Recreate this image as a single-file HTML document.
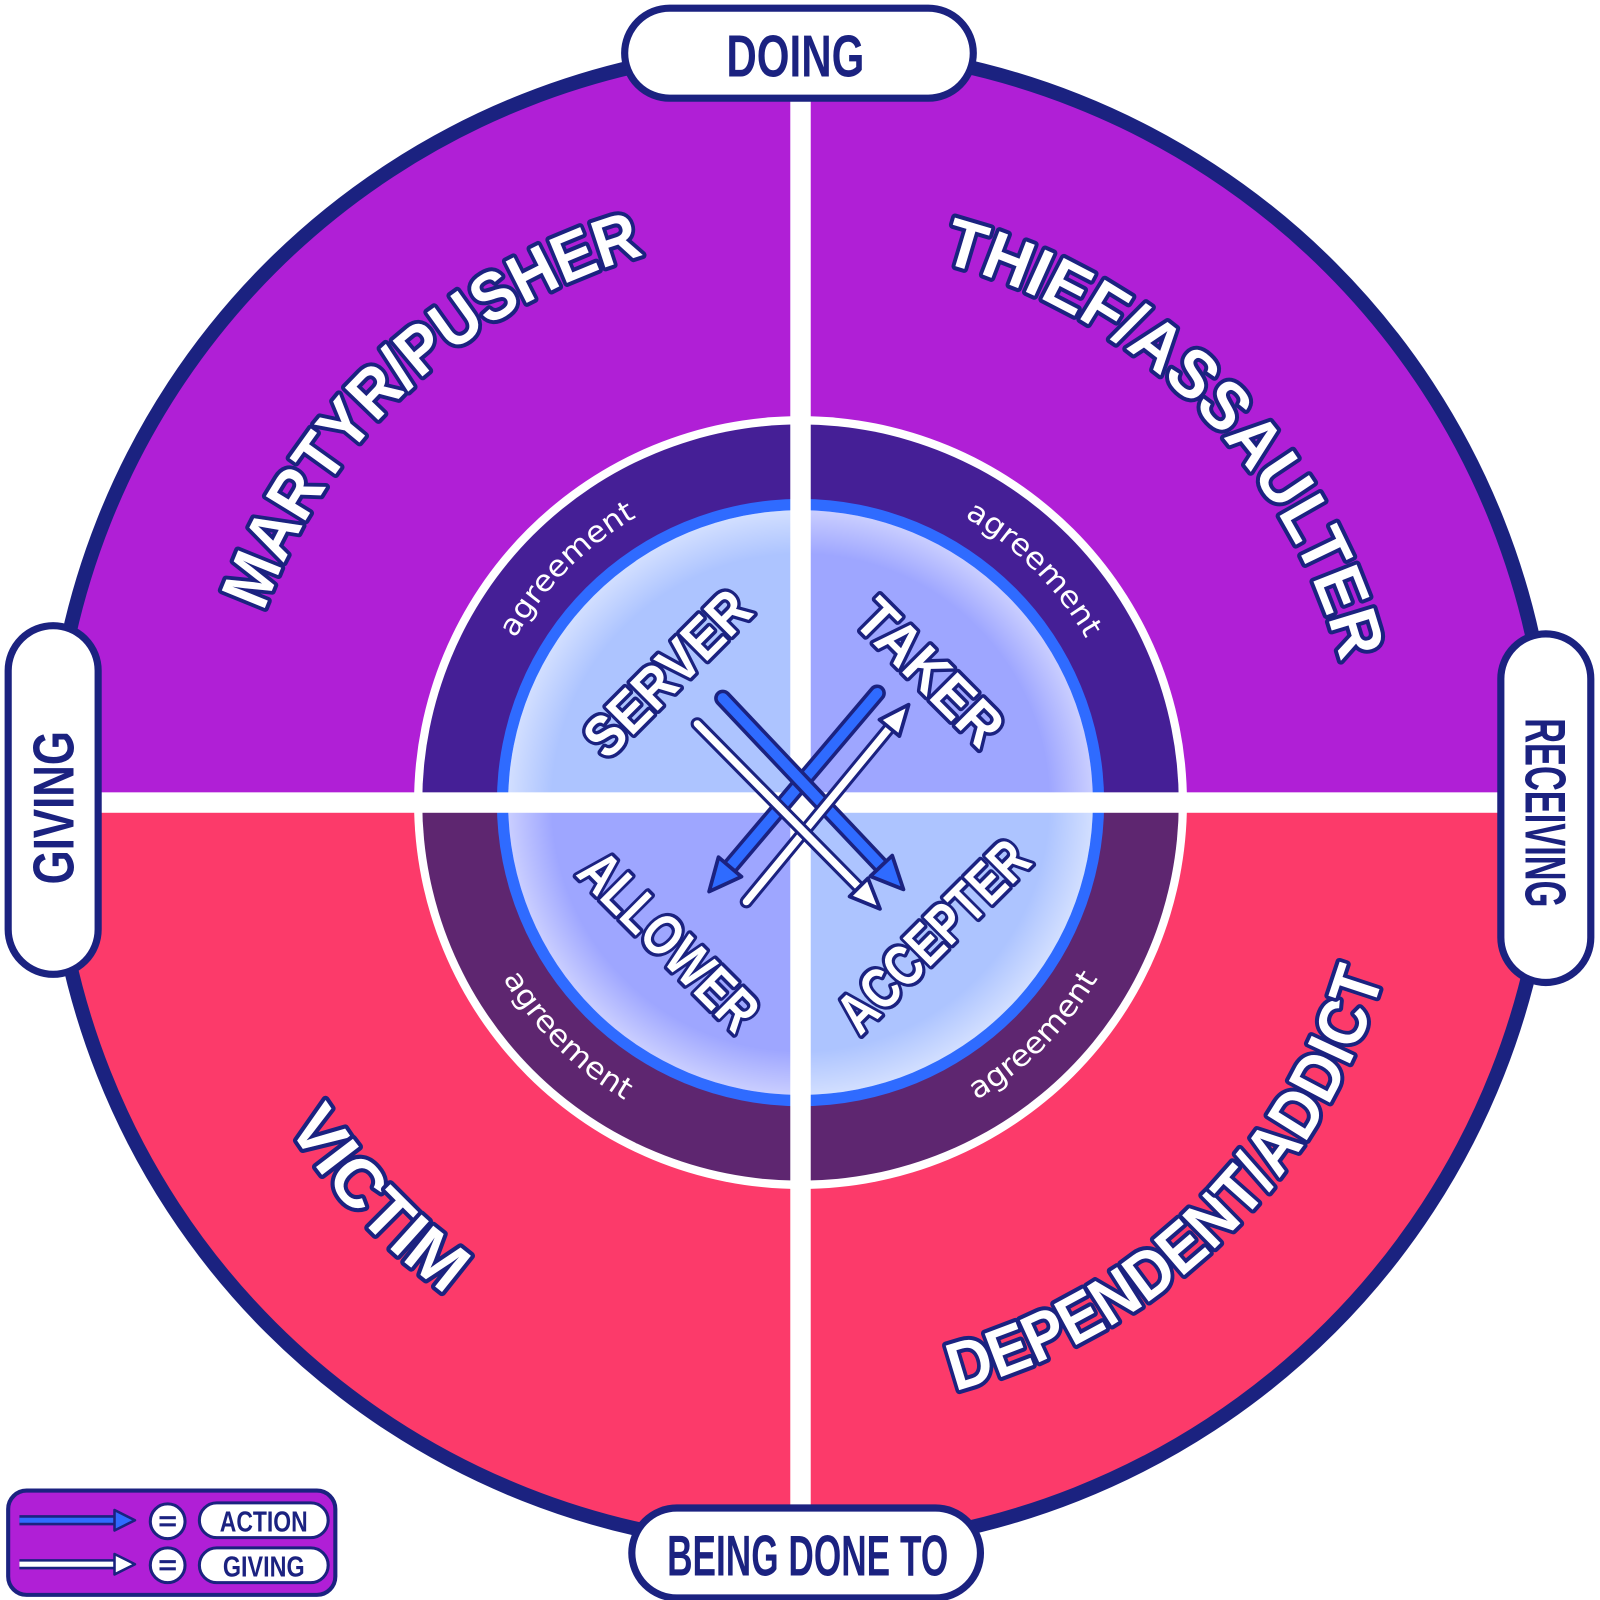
<!DOCTYPE html>
<html><head><meta charset="utf-8"><style>
html,body{margin:0;padding:0;background:#fff;width:1600px;height:1600px;overflow:hidden}
svg{display:block}
.big{font-family:"Liberation Sans",sans-serif;font-weight:bold;font-size:66px;fill:#fff;stroke:#1b2280;stroke-width:8;paint-order:stroke;stroke-linejoin:round}
.role{font-family:"Liberation Sans Narrow","Liberation Sans",sans-serif;font-weight:bold;font-size:56px;fill:#fff;stroke:#1b2280;stroke-width:7;paint-order:stroke;stroke-linejoin:round}
.agr{font-family:"DejaVu Sans","Liberation Sans",sans-serif;font-weight:normal;font-size:29px;fill:#fff}
.pill{font-family:"Liberation Sans Narrow","Liberation Sans",sans-serif;font-weight:bold;fill:#1b2280}
</style></head><body>
<svg width="1600" height="1600" viewBox="0 0 1565 1565" xmlns="http://www.w3.org/2000/svg">
<defs>
<clipPath id="outer"><circle cx="783" cy="780" r="733"/></clipPath>
<path id="topBig" d="M226,785 A557,557 0 0 1 1340,785"/>
<path id="topBig2" d="M237,785 A546,546 0 0 1 1329,785"/>
<path id="botVic" d="M190,785 A593,593 0 0 0 1376,785"/>
<path id="botDep" d="M188,785 A595,595 0 0 0 1378,785"/>
<path id="topAgr" d="M461,785 A322,322 0 0 1 1105,785"/>
<path id="botAgr" d="M445,785 A338,338 0 0 0 1121,785"/>
<marker id="hb" markerUnits="userSpaceOnUse" markerWidth="40" markerHeight="40" viewBox="-4 -18 38 36" refX="0" refY="0" orient="auto"><path d="M0,-14 L30,0 L0,14 Z" fill="#2f6bff" stroke="#1b2280" stroke-width="3.5" stroke-linejoin="round"/></marker>
<marker id="hw" markerUnits="userSpaceOnUse" markerWidth="40" markerHeight="40" viewBox="-4 -18 38 36" refX="0" refY="0" orient="auto"><path d="M0,-12 L28,0 L0,12 Z" fill="#fff" stroke="#1b2280" stroke-width="3.5" stroke-linejoin="round"/></marker>
<radialGradient id="glow" cx="50%" cy="50%" r="50%"><stop offset="85%" stop-color="#fff" stop-opacity="0"/><stop offset="100%" stop-color="#fff" stop-opacity="0.45"/></radialGradient>
</defs>

<circle cx="783" cy="780" r="733" fill="#fc3a6a"/>
<g clip-path="url(#outer)">
<rect x="0" y="0" width="1565" height="785" fill="#b01fd6"/>
</g>
<circle cx="783" cy="780" r="733" fill="none" stroke="#1b2280" stroke-width="14"/>

<circle cx="783" cy="785" r="378" fill="#fff"/>
<path d="M413,785 A370,370 0 0 1 1153,785 Z" fill="#451f96"/>
<path d="M413,785 A370,370 0 0 0 1153,785 Z" fill="#5e2670"/>
<circle cx="783" cy="785" r="297" fill="#2f6bff"/>
<path d="M783,785 L497,785 A286,286 0 0 1 783,499 Z" fill="#adc4ff"/>
<path d="M783,785 L783,499 A286,286 0 0 1 1069,785 Z" fill="#9ea6ff"/>
<path d="M783,785 L1069,785 A286,286 0 0 1 783,1071 Z" fill="#adc4ff"/>
<path d="M783,785 L783,1071 A286,286 0 0 1 497,785 Z" fill="#9ea6ff"/>
<circle cx="783" cy="785" r="286" fill="url(#glow)"/>

<rect x="773" y="80" width="20" height="1410" fill="#fff"/>
<rect x="80" y="775" width="1405" height="20" fill="#fff"/>

<text class="big"><textPath href="#topBig" startOffset="26%" text-anchor="middle" textLength="530" lengthAdjust="spacingAndGlyphs">MARTYR/PUSHER</textPath></text>
<text class="big"><textPath href="#topBig2" startOffset="75%" text-anchor="middle" textLength="580" lengthAdjust="spacingAndGlyphs">THIEF/ASSAULTER</textPath></text>
<text class="big"><textPath href="#botVic" startOffset="24%" text-anchor="middle" textLength="228" lengthAdjust="spacingAndGlyphs">VICTIM</textPath></text>
<text class="big"><textPath href="#botDep" startOffset="74.5%" text-anchor="middle" textLength="610" lengthAdjust="spacingAndGlyphs">DEPENDENT/ADDICT</textPath></text>

<text class="agr"><textPath href="#topAgr" startOffset="25%" text-anchor="middle" textLength="170" lengthAdjust="spacingAndGlyphs">agreement</textPath></text>
<text class="agr"><textPath href="#topAgr" startOffset="75%" text-anchor="middle" textLength="170" lengthAdjust="spacingAndGlyphs">agreement</textPath></text>
<text class="agr"><textPath href="#botAgr" startOffset="25%" text-anchor="middle" textLength="170" lengthAdjust="spacingAndGlyphs">agreement</textPath></text>
<text class="agr"><textPath href="#botAgr" startOffset="75%" text-anchor="middle" textLength="170" lengthAdjust="spacingAndGlyphs">agreement</textPath></text>

<text class="role" transform="translate(652,658) rotate(-45)" text-anchor="middle" y="20" textLength="205" lengthAdjust="spacingAndGlyphs">SERVER</text>
<text class="role" transform="translate(910,657) rotate(45)" text-anchor="middle" y="20" textLength="178" lengthAdjust="spacingAndGlyphs">TAKER</text>
<text class="role" transform="translate(655,920) rotate(45)" text-anchor="middle" y="20" textLength="222" lengthAdjust="spacingAndGlyphs">ALLOWER</text>
<text class="role" transform="translate(912,915) rotate(-45)" text-anchor="middle" y="20" textLength="240" lengthAdjust="spacingAndGlyphs">ACCEPTER</text>

<g stroke-linecap="round">
<line x1="858" y1="678" x2="714" y2="848" stroke="#1b2280" stroke-width="17"/>
<line x1="858" y1="678" x2="714" y2="848" stroke="#2f6bff" stroke-width="10" marker-end="url(#hb)"/>
<line x1="707" y1="683" x2="862" y2="847" stroke="#1b2280" stroke-width="17"/>
<line x1="707" y1="683" x2="862" y2="847" stroke="#2f6bff" stroke-width="10" marker-end="url(#hb)"/>
<line x1="730" y1="882" x2="870" y2="712" stroke="#1b2280" stroke-width="13"/>
<line x1="730" y1="882" x2="870" y2="712" stroke="#fff" stroke-width="7" marker-end="url(#hw)"/>
<line x1="682" y1="708" x2="840" y2="868" stroke="#1b2280" stroke-width="13"/>
<line x1="682" y1="708" x2="840" y2="868" stroke="#fff" stroke-width="7" marker-end="url(#hw)"/>
</g>

<rect x="611" y="8" width="341" height="88" rx="44" fill="#fff" stroke="#1b2280" stroke-width="7"/>
<text class="pill" x="778" y="75" font-size="58" text-anchor="middle" textLength="135" lengthAdjust="spacingAndGlyphs">DOING</text>
<rect x="618" y="1475" width="341" height="88" rx="44" fill="#fff" stroke="#1b2280" stroke-width="7"/>
<text class="pill" x="790" y="1541" font-size="56" text-anchor="middle" textLength="275" lengthAdjust="spacingAndGlyphs">BEING DONE TO</text>
<rect x="8" y="612" width="88" height="341" rx="44" fill="#fff" stroke="#1b2280" stroke-width="7"/>
<text class="pill" transform="translate(52,790) rotate(-90)" y="20" font-size="56" text-anchor="middle" textLength="150" lengthAdjust="spacingAndGlyphs">GIVING</text>
<rect x="1468" y="620" width="88" height="341" rx="44" fill="#fff" stroke="#1b2280" stroke-width="7"/>
<text class="pill" transform="translate(1512,795) rotate(90)" y="20" font-size="56" text-anchor="middle" textLength="185" lengthAdjust="spacingAndGlyphs">RECEIVING</text>

<rect x="8" y="1458" width="320" height="102" rx="18" fill="#b01fd6" stroke="#1b2280" stroke-width="4"/>
<line x1="19" y1="1487" x2="112" y2="1487" stroke="#1b2280" stroke-width="10"/>
<line x1="19" y1="1487" x2="112" y2="1487" stroke="#2f6bff" stroke-width="5"/>
<path d="M112,1477 L132,1487 L112,1497 Z" fill="#2f6bff" stroke="#1b2280" stroke-width="2.5" stroke-linejoin="round"/>
<line x1="19" y1="1530" x2="112" y2="1530" stroke="#1b2280" stroke-width="10"/>
<line x1="19" y1="1530" x2="112" y2="1530" stroke="#fff" stroke-width="5"/>
<path d="M112,1520 L132,1530 L112,1540 Z" fill="#fff" stroke="#1b2280" stroke-width="2.5" stroke-linejoin="round"/>
<circle cx="164" cy="1488" r="17" fill="#fff" stroke="#1b2280" stroke-width="3"/>
<rect x="156" y="1483" width="16" height="3" fill="#1b2280"/><rect x="156" y="1490" width="16" height="3" fill="#1b2280"/>
<circle cx="164" cy="1531" r="17" fill="#fff" stroke="#1b2280" stroke-width="3"/>
<rect x="156" y="1526" width="16" height="3" fill="#1b2280"/><rect x="156" y="1533" width="16" height="3" fill="#1b2280"/>
<rect x="195" y="1470" width="126" height="34" rx="17" fill="#fff" stroke="#1b2280" stroke-width="3"/>
<text class="pill" x="258" y="1498" font-size="28" text-anchor="middle" textLength="86" lengthAdjust="spacingAndGlyphs">ACTION</text>
<rect x="195" y="1514" width="126" height="34" rx="17" fill="#fff" stroke="#1b2280" stroke-width="3"/>
<text class="pill" x="258" y="1542" font-size="28" text-anchor="middle" textLength="80" lengthAdjust="spacingAndGlyphs">GIVING</text>
</svg>
</body></html>
